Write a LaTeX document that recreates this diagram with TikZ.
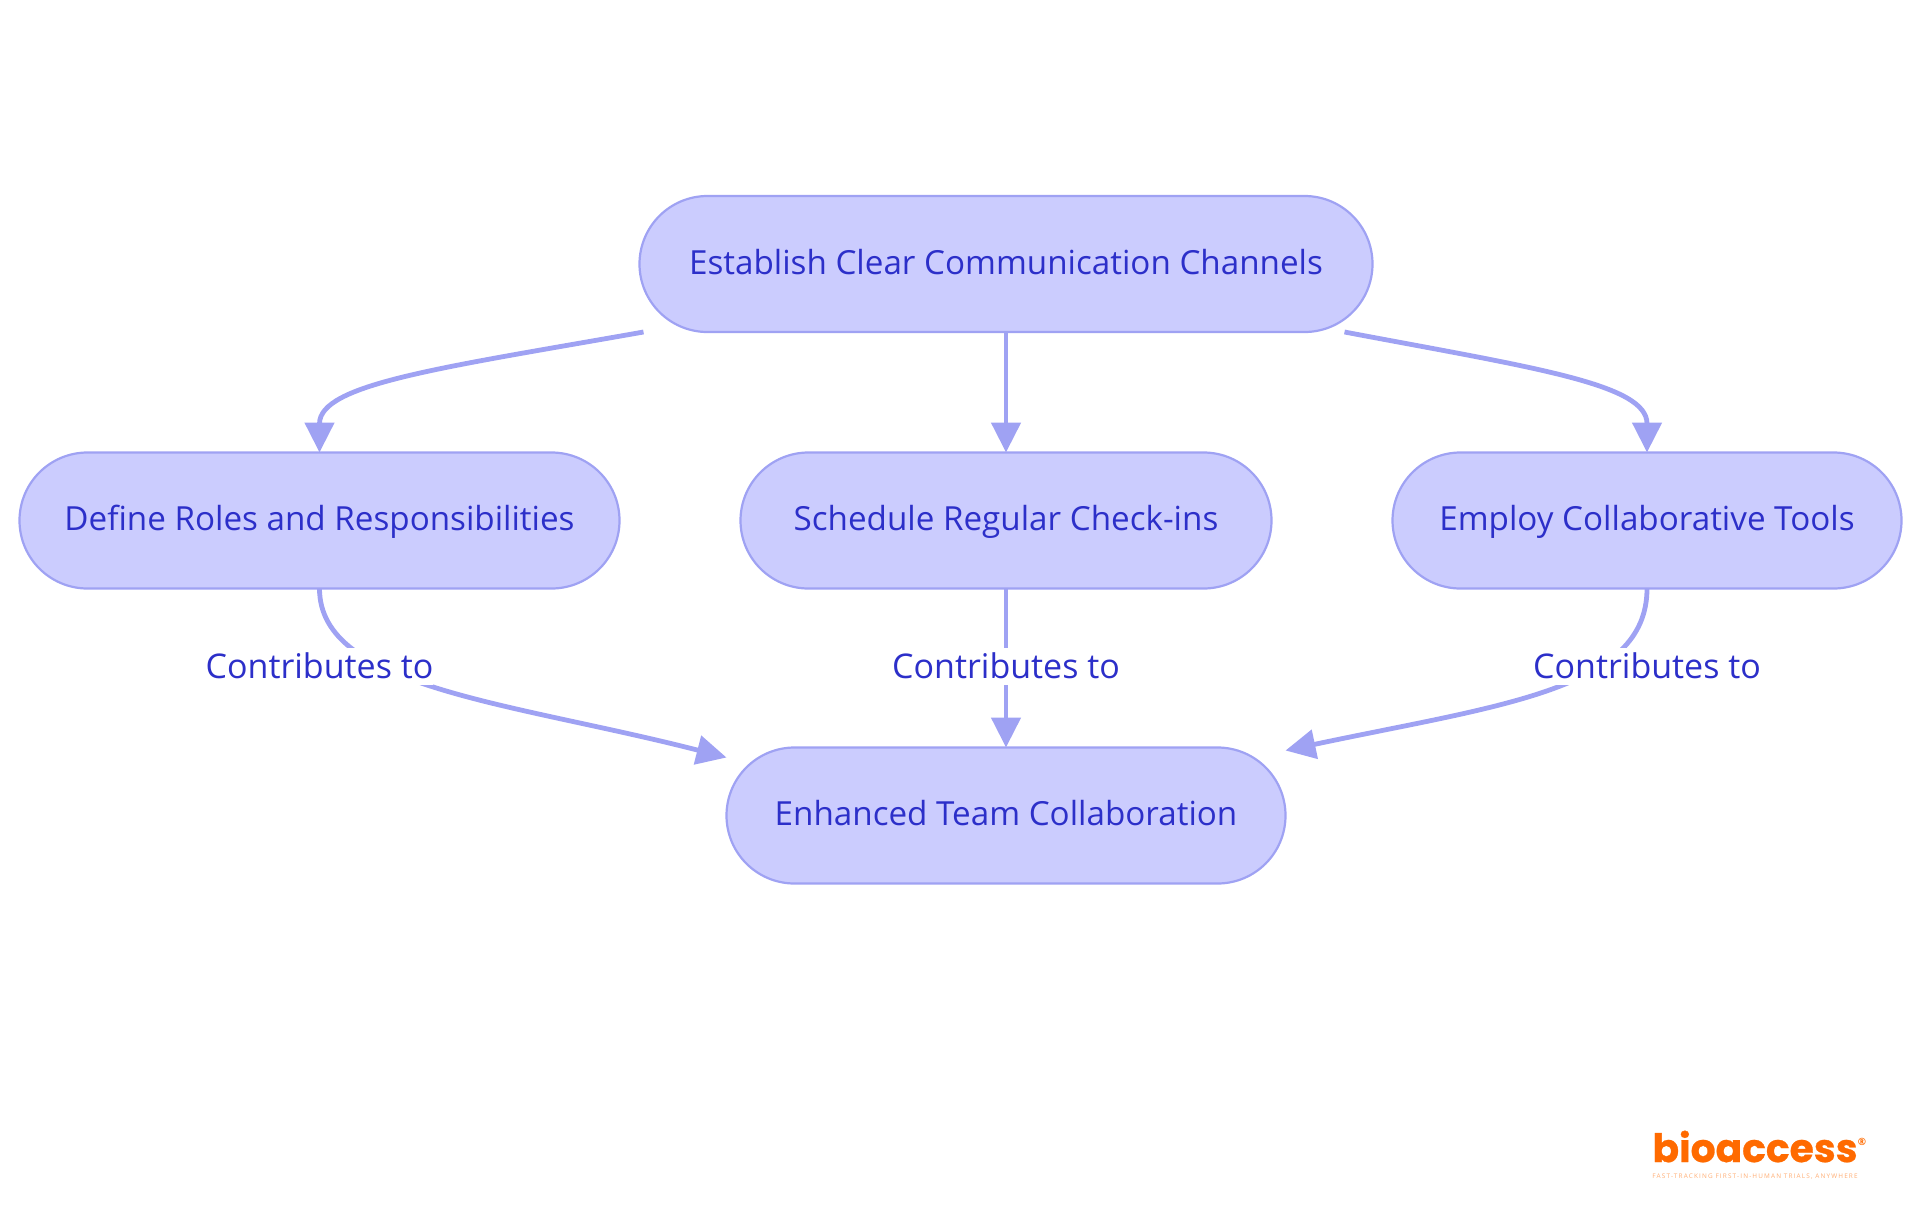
\documentclass[tikz,border=0pt]{standalone}
\usepackage{fontspec}
\setmainfont{Open Sans}
\newfontfamily\logofont[FakeBold=0.7]{Poppins}
\newfontfamily\tagfont[LetterSpace=18]{Open Sans}
\usetikzlibrary{arrows.meta, calc}
\definecolor{stepfill}{HTML}{CBCCFE}
\definecolor{stepline}{HTML}{9FA2F3}
\definecolor{steptext}{HTML}{2C2FC9}
\definecolor{logoorange}{HTML}{FF6A00}
\tikzset{
    stepbox/.style={draw=stepline, fill=stepfill, line width=1.1pt, rounded corners=34pt, outer sep=0pt,
        minimum height=68pt, text=steptext, text height=14pt, text depth=4pt, font=\fontsize{16.6}{20}\selectfont},
    link/.style={-{Triangle[length=15pt,width=14.5pt]}, draw=stepline, line width=2.4pt},
    linklabel/.style={fill=white, text=steptext, inner xsep=0pt, inner ysep=0.25pt,
        text height=15.2pt, text depth=2.8pt, font=\fontsize{17}{20}\selectfont}
}
\begin{document}
\begin{tikzpicture}[x=0.5pt, y=-0.5pt]
    \useasboundingbox (0,0) rectangle (1920,1215);
    \node[stepbox, minimum width=366.5pt] (establish) at (1006,264) {Establish Clear Communication Channels};
    \node[stepbox, minimum width=300pt] (roles) at (319.5,520.5) {Define Roles and Responsibilities};
    \node[stepbox, minimum width=265.5pt] (checkins) at (1006,520.5) {Schedule Regular Check-ins};
    \node[stepbox, minimum width=254.5pt] (tools) at (1647,520.5) {Employ Collaborative Tools};
    \node[stepbox, minimum width=279.5pt] (outcome) at (1006,815.5) {Enhanced Team Collaboration};
    \coordinate (startl) at ($(establish.south west)+(4,0)$);
    \coordinate (startr) at ($(establish.south east)+(-28,0)$);
    \coordinate (endl) at ($(outcome.north west)+(0,10)$);
    \coordinate (endr) at ($(outcome.north east)+(0,3)$);
    \draw[link] (startl) .. controls (440,368) and (319.5,384) .. (roles.north);
    \draw[link] (establish.south) -- (checkins.north);
    \draw[link] (startr) .. controls (1535,368) and (1647,384) .. (tools.north);
    \draw[link] (roles.south) .. controls (319.5,688) and (510,702) .. (endl);
    \draw[link] (checkins.south) -- (outcome.north);
    \draw[link] (tools.south) .. controls (1647,690) and (1500,705) .. (endr);
    \node[linklabel] (lblroles) at (319.5,666.5) {Contributes to};
    \node[linklabel] (lblcheckins) at (1006,666.5) {Contributes to};
    \node[linklabel] (lbltools) at (1647,666.5) {Contributes to};
    \node[text=logoorange, font=\fontsize{19.6}{20}\logofont\bfseries, inner sep=0pt] (logo) at (1755,1146.5) {bioaccess};
    \node[text=logoorange, font=\fontsize{5}{5}\bfseries, inner sep=0pt] (logomark) at (1862,1142) {®};
    \node[text=logoorange!55, font=\fontsize{3.2}{4}\tagfont, inner sep=0pt] (logotag) at (1755,1177) {FAST-TRACKING FIRST-IN-HUMAN TRIALS, ANYWHERE};
\end{tikzpicture}
\end{document}
